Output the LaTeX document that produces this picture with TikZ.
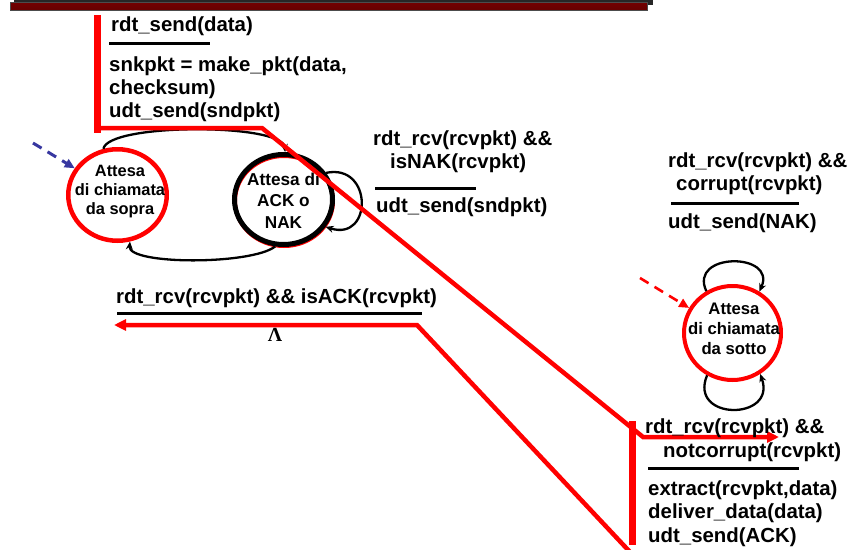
\documentclass[tikz,border=0pt]{standalone}
\usepackage{fontspec}
\setmainfont{Liberation Sans}
\newfontfamily\serifgreek{Liberation Serif}
\usetikzlibrary{arrows.meta,shapes.geometric}

\begin{document}
\begin{tikzpicture}[x=1pt,y=-1pt,
  lbl/.style={anchor=base west, inner sep=0pt, font={\fontsize{20.4}{22.5}\selectfont\bfseries}},
  fsmstate/.style={ellipse, inner sep=0pt},
  stxt/.style={align=center, inner sep=0pt},
  fracline/.style={line width=3pt, black},
  redline/.style={line width=4.5pt, red, line join=miter},
  redarrow/.style={redline, -{Triangle[length=12pt,width=11pt]}},
  redbar/.style={line width=7pt, red},
  loop/.style={line width=2.3pt, black, -{Stealth[length=8pt,width=7pt]}},
  initarrow/.style={line width=3pt, dashed, dash pattern=on 10pt off 7pt, -{Triangle[length=10pt,width=9pt]}}
]
\useasboundingbox (0,0) rectangle (865,549);

% title bar
\fill[black!85] (14,0) rectangle (653,5);
\shade[top color=red!45!black, middle color=red!80!black, bottom color=red!40!black,
  draw=black!70, line width=0.6pt] (10,2.5) rectangle (647,10);

% states
\node[fsmstate, draw=red, line width=4pt, minimum width=98pt, minimum height=90pt] (s2r) at (284,201) {};
\node[fsmstate, draw=red, line width=4.5pt, minimum width=98.5pt, minimum height=91.5pt] (s1) at (117.5,195) {};
\node[fsmstate, draw=black, line width=5pt, minimum width=98pt, minimum height=90pt] (s2) at (283.5,199.5) {};
\node[fsmstate, draw=red, line width=4pt, minimum width=97pt, minimum height=94pt] (s3) at (732.5,333) {};

\node[stxt, font={\fontsize{16.4}{19}\selectfont\bfseries}] (s1t) at (120,191.8) {Attesa\\di chiamata\\da sopra};
\node[stxt, font={\fontsize{17.2}{21.5}\selectfont\bfseries}] (s2t) at (283.5,200.4) {Attesa di\\ACK o\\NAK};
\node[stxt, font={\fontsize{16.7}{20}\selectfont\bfseries}] (s3t) at (734,329) {Attesa\\di chiamata\\da sotto};

% initial arrows
\coordinate (i1) at (33,143);
\coordinate (i3) at (640,278);
\draw[initarrow, color={rgb,255:red,55;green,55;blue,160}] (i1) -- (s1.148);
\draw[initarrow, red, line width=2.6pt] (i3) -- (s3.150);

% sender transitions
\draw[loop] (s1.107) .. controls (108,123) and (282,123) .. (s2.88);
\draw[loop] (s2.-100) .. controls (252,265) and (128,265) .. (s1.-75);
\draw[loop] (s2.32) .. controls (373,163) and (373,242) .. (s2.-33);

% receiver self loops
\draw[loop] (s3.122) .. controls (688,252) and (777,252) .. (s3.57);
\draw[loop] (s3.-121) .. controls (688,421) and (777,421) .. (s3.-56);

% red highlight: send path
\coordinate (ta) at (97,15);
\coordinate (tb) at (97,133);
\draw[redbar] (ta) -- (tb);
\coordinate (a1) at (95,128);
\coordinate (a2) at (262,128);
\coordinate (a3) at (643,437);
\coordinate (a4) at (779,437);
\coordinate (qa) at (632,421);
\coordinate (qb) at (632,545);
\draw[redbar] (qa) -- (qb);
\draw[redarrow] (a1) -- (a2) -- (a3) -- (a4);

% red highlight: ACK path
\coordinate (b1) at (630,552);
\coordinate (b2) at (417,325);
\coordinate (b3) at (114,325);
\draw[redarrow] (b1) -- (b2) -- (b3);

% label: rdt_send
\node[lbl] (l1a) at (111,31) {rdt\_send(data)};
\draw[fracline] (109,43.5) -- (210,43.5);
\node[lbl] (l1b) at (109,71) {snkpkt = make\_pkt(data,};
\node[lbl] (l1c) at (109,94) {checksum)};
\node[lbl] (l1d) at (109,117) {udt\_send(sndpkt)};

% label: NAK received
\node[lbl] (l2a) at (373,145) {rdt\_rcv(rcvpkt) \&\&};
\node[lbl] (l2b) at (390,168) {isNAK(rcvpkt)};
\draw[fracline] (375,188) -- (476,188);
\node[lbl] (l2c) at (376,212) {udt\_send(sndpkt)};

% label: ACK received
\node[lbl] (l3a) at (116,303) {rdt\_rcv(rcvpkt) \&\& isACK(rcvpkt)};
\draw[fracline] (117,313) -- (422,313);
\node[anchor=base, inner sep=0pt, font={\fontsize{20}{20}\selectfont\serifgreek\bfseries}] (lam) at (275,341) {Λ};

% label: corrupt packet
\node[lbl] (l4a) at (668,167) {rdt\_rcv(rcvpkt) \&\&};
\node[lbl] (l4b) at (676,190) {corrupt(rcvpkt)};
\draw[fracline] (671,203) -- (799,203);
\node[lbl] (l4c) at (668,228) {udt\_send(NAK)};

% label: good packet
\node[lbl] (l5a) at (645,433) {rdt\_rcv(rcvpkt) \&\&};
\node[lbl] (l5b) at (663,457) {notcorrupt(rcvpkt)};
\draw[fracline] (648,468) -- (799,468);
\node[lbl] (l5c) at (648,495) {extract(rcvpkt,data)};
\node[lbl] (l5d) at (648,518) {deliver\_data(data)};
\node[lbl] (l5e) at (648,542) {udt\_send(ACK)};
\end{tikzpicture}
\end{document}
